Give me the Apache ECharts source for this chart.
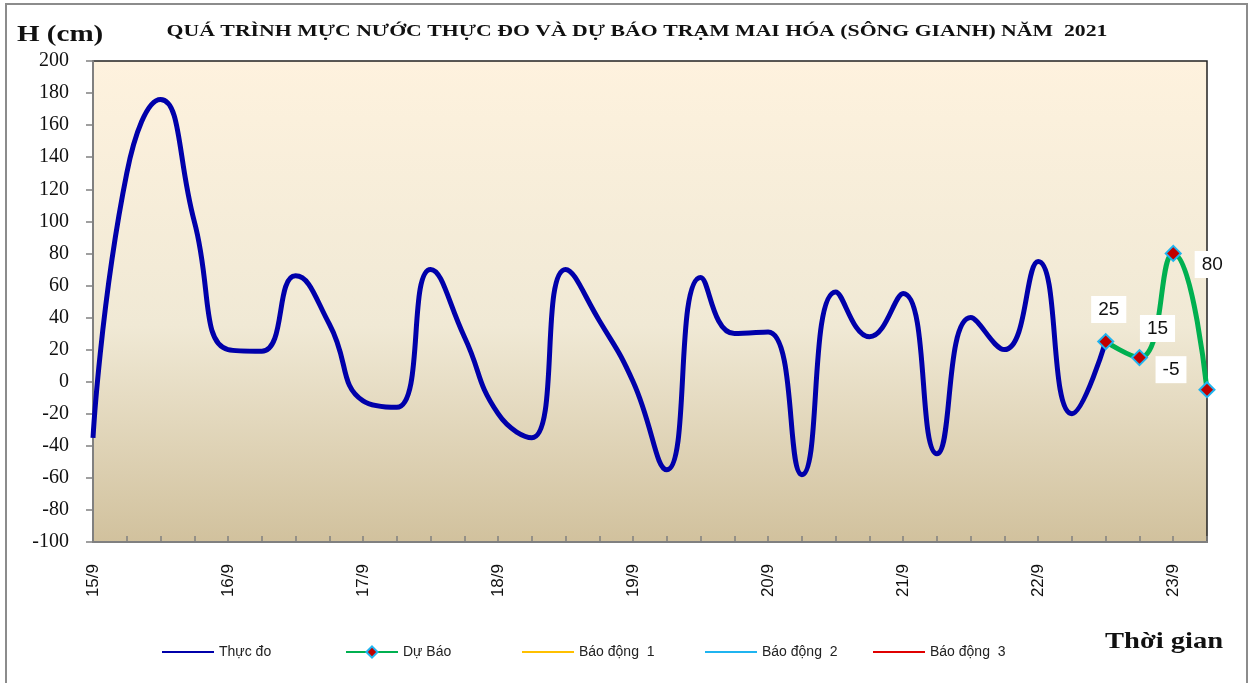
<!DOCTYPE html>
<html>
<head>
<meta charset="utf-8">
<script src="https://cdn.jsdelivr.net/npm/echarts@6/dist/echarts.min.js"></script>
<style>
  html, body { margin: 0; padding: 0; background: #fff; }
  #chart { width: 1253px; height: 683px; }
</style>
</head>
<body>
<div id="chart"></div>
<script>
// số liệu (mỗi 6 giờ một điểm)
var days = ['15/9', '16/9', '17/9', '18/9', '19/9', '20/9', '21/9', '22/9', '23/9'];
var hours = ['00h', '06h', '12h', '18h'];
var thucDo = [
  -35, 130, 176, 100, 20, 19, 66, 36, -12, -16, 70, 28,
  -20, -35, 70, 38, 0, -55, 65, 30, 31, -58, 56, 28,
  55, -45, 40, 20, 75, -20, 25
];
var duBao = [25, 15, 80, -5];   // từ 22/9 12h đến 23/9 06h
var duBaoStart = 30;
var yTicks = { min: -100, max: 200, step: 20 };

// trục thời gian
var categories = [];
days.forEach(function (d) {
  hours.forEach(function (h) { categories.push(d + ' ' + h); });
});
categories = categories.slice(0, duBaoStart + duBao.length);

var blueData = thucDo.slice();
// vị trí nhãn của các điểm dự báo
var labelOffsets = [[3, -32], [18, -29], [39, 11], [-36, -20]];
var greenData = categories.map(function (c, i) {
  if (i < duBaoStart) return '-';
  return { value: duBao[i - duBaoStart], label: { offset: labelOffsets[i - duBaoStart] } };
});

var serif = '"Liberation Serif", "Times New Roman", serif';
var sans = '"Liberation Sans", Arial, sans-serif';

var chart = echarts.init(document.getElementById('chart'));

function legendAt(name, left, lineOnly) {
  var lg = {
    data: [name], left: left, top: 640, itemWidth: 52, itemHeight: 14,
    textStyle: { fontFamily: sans, fontSize: 14, color: '#222' }
  };
  if (lineOnly) { lg.icon = 'rect'; lg.itemHeight = 2; }
  return lg;
}

chart.setOption({
  animation: false,
  backgroundColor: '#fff',
  graphic: [
    { type: 'rect', shape: { x: 6, y: 4, width: 1241, height: 700 },
      style: { fill: 'none', stroke: '#8c8c8c', lineWidth: 2 }, silent: true },
    { type: 'text', x: 637, y: 32, scaleX: 1.28,
      style: { text: 'QUÁ TRÌNH MỰC NƯỚC THỰC ĐO VÀ DỰ BÁO TRẠM MAI HÓA (SÔNG GIANH) NĂM  2021',
        font: 'bold 17px ' + serif, fill: '#111', align: 'center', verticalAlign: 'middle' } },
    { type: 'text', x: 17, y: 35, scaleX: 1.21,
      style: { text: 'H (cm)', font: 'bold 24px ' + serif, fill: '#111', verticalAlign: 'middle' } },
    { type: 'text', x: 1105, y: 642, scaleX: 1.19,
      style: { text: 'Thời gian', font: 'bold 24px ' + serif, fill: '#111', verticalAlign: 'middle' } }
  ],
  legend: [
    legendAt('Thực đo', 157, true),
    legendAt('Dự Báo', 340, false),
    legendAt('Báo động  1', 517, true),
    legendAt('Báo động  2', 700, true),
    legendAt('Báo động  3', 868, true)
  ],
  grid: {
    left: 93, right: 46, top: 61, bottom: 141,
    show: true,
    borderColor: '#222', borderWidth: 1.5,
    backgroundColor: new echarts.graphic.LinearGradient(0, 0, 0, 1, [
      { offset: 0, color: '#fef2de' },
      { offset: 0.55, color: '#f0e9d5' },
      { offset: 1, color: '#d1c19d' }
    ])
  },
  xAxis: {
    type: 'category',
    data: categories,
    boundaryGap: false,
    axisLine: { onZero: false, lineStyle: { color: '#808080', width: 2 } },
    axisTick: { inside: true, length: 6, interval: 0, lineStyle: { color: '#808080', width: 1.5 } },
    axisLabel: {
      interval: 3, rotate: 90, margin: 22,
      fontFamily: sans, fontSize: 17, color: '#111',
      formatter: function (v) { return v.split(' ')[0]; }
    },
    splitLine: { show: false }
  },
  yAxis: {
    type: 'value',
    min: yTicks.min, max: yTicks.max, interval: yTicks.step,
    axisLine: { show: true, lineStyle: { color: '#808080', width: 2 } },
    axisTick: { show: true, length: 7, lineStyle: { color: '#808080', width: 1.5 } },
    axisLabel: { fontFamily: serif, fontSize: 20, color: '#111', margin: 24 },
    splitLine: { show: false }
  },
  series: [
    {
      name: 'Thực đo', type: 'line', data: blueData,
      smooth: 0.5, symbol: 'none',
      lineStyle: { color: '#0000aa', width: 5 },
      itemStyle: { color: '#0000aa' }, z: 3
    },
    {
      name: 'Dự Báo', type: 'line', data: greenData,
      smooth: 0.5, symbol: 'diamond', symbolSize: 15,
      lineStyle: { color: '#00b050', width: 5 },
      itemStyle: { color: '#c00000', borderColor: '#1fb4f0', borderWidth: 2 },
      label: {
        show: true, position: 'inside',
        fontFamily: sans, fontSize: 19, color: '#111',
        backgroundColor: '#fff', padding: [5, 7, 3, 7]
      },
      z: 4
    },
    { name: 'Báo động  1', type: 'line', data: [], symbol: 'none',
      lineStyle: { color: '#ffc000', width: 2 }, itemStyle: { color: '#ffc000' } },
    { name: 'Báo động  2', type: 'line', data: [], symbol: 'none',
      lineStyle: { color: '#1fb4f0', width: 2 }, itemStyle: { color: '#1fb4f0' } },
    { name: 'Báo động  3', type: 'line', data: [], symbol: 'none',
      lineStyle: { color: '#e00000', width: 2 }, itemStyle: { color: '#e00000' } }
  ]
});
</script>
</body>
</html>
